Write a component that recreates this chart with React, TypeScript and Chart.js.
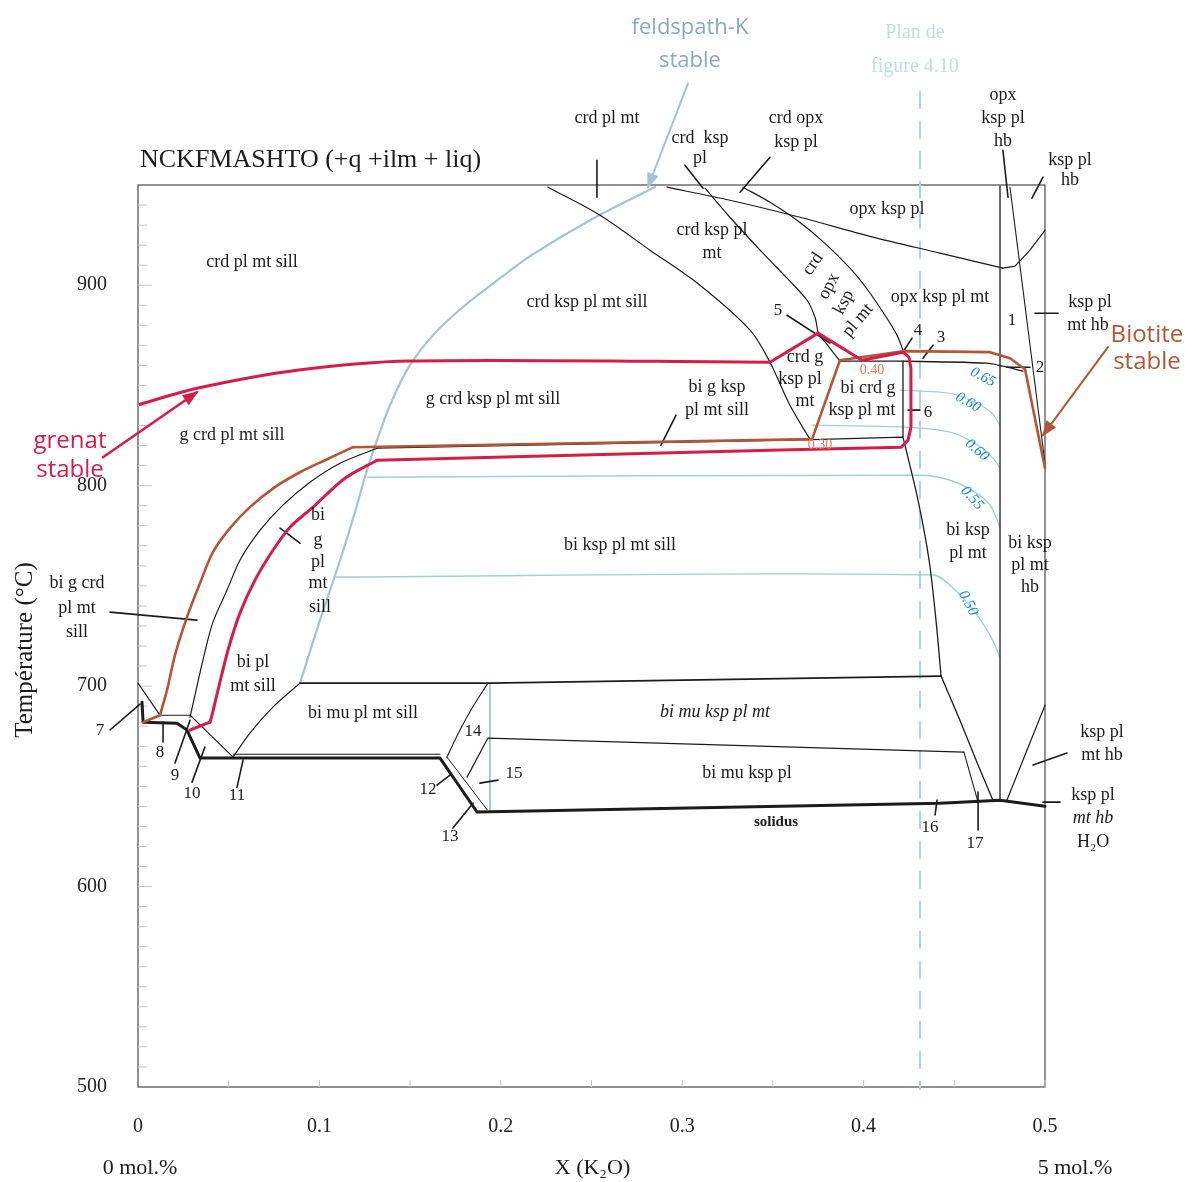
import React, { useEffect, useRef } from "react";
import { Chart, registerables } from "chart.js";
Chart.register(...registerables);

type P = [number, number];

// ---------- phase boundaries (x = X(K2O), y = T °C) ----------
const feldsparBoundary: P[] = [[0.0893,701.5],[0.1003,732.9],[0.1114,762.8],[0.1196,786.8],[0.1262,807.7],[0.1318,822.7],[0.1389,840.1],[0.1499,860.1],[0.1637,876.1],[0.1803,890.0],[0.1996,903.5],[0.2161,914.5],[0.2492,932.4],[0.2850,949.0]];
const garnetUpper: P[] = [[0.0011,840.6],[0.0325,848.6],[0.0877,857.6],[0.1499,862.2],[0.3484,861.6]];
const garnetMiddle: P[] = [[0.3484,861.6],[0.3749,876.1],[0.3991,862.6],[0.4217,866.6],[0.4250,864.1],[0.4261,858.6],[0.4261,829.2],[0.4245,822.7],[0.4207,819.2],[0.3484,817.7],[0.1318,812.7]];
const garnetLowerCurve: P[] = [[0.1318,812.7],[0.1141,803.7],[0.0965,789.3],[0.0838,779.3],[0.0744,767.8],[0.0645,752.9],[0.0562,736.4],[0.0496,717.9],[0.0441,698.0],[0.0408,685.5],[0.0397,682.0]];
const garnetFoot: P[] = [[0.0397,682.0],[0.0287,678.1]];
const biotiteCurve: P[] = [[0.0121,685.5],[0.0160,698.0],[0.0204,715.5],[0.0270,734.4],[0.0342,751.4],[0.0413,766.8],[0.0507,778.8],[0.0617,789.3],[0.0755,799.3],[0.0893,806.7],[0.1031,812.7],[0.1185,819.2]];
const biotiteUpper: P[] = [[0.0028,682.0],[0.0121,685.5]];
const biotiteRest: P[] = [[0.1185,819.2],[0.3716,823.2],[0.3870,862.6],[0.4217,867.1],[0.4697,866.6],[0.4807,863.6],[0.4890,858.1],[0.5000,808.7]];
const garnetInCurve: P[] = [[0.0287,684.5],[0.0314,695.5],[0.0358,713.0],[0.0413,731.9],[0.0491,747.9],[0.0562,762.8],[0.0673,777.8],[0.0799,790.3],[0.0948,801.7],[0.1114,811.2],[0.1318,818.7]];
const garnetInFlat: P[] = [[0.1318,818.7],[0.3716,823.0],[0.4217,824.2],[0.4228,820.2]];
const biOutLine: P[] = [[0.3870,862.1],[0.4217,862.1],[0.4680,861.1],[0.4768,859.6],[0.4879,857.1]];
const boxRight: P[] = [[0.4217,862.1],[0.4217,824.2]];
const point5Seg: P[] = [[0.3749,876.1],[0.3870,862.1]];
const crdKspCurve: P[] = [[0.2260,948.9],[0.2547,934.9],[0.2822,917.5],[0.3098,900.0],[0.3374,877.6],[0.3484,861.6],[0.3594,840.1],[0.3704,823.2]];
const opxLower: P[] = [[0.2916,948.9],[0.3263,942.4],[0.3649,933.9],[0.4035,924.4],[0.4421,916.0],[0.4768,908.5]];
const opxHbEdge: P[] = [[0.4768,908.5],[0.4835,909.5],[0.4917,917.5],[0.5000,927.4]];
const crdOpxLeft: P[] = [[0.3126,948.4],[0.3263,933.9],[0.3445,916.0],[0.3578,903.5],[0.3688,892.5],[0.3732,884.0],[0.3749,876.1]];
const crdOpxRight: P[] = [[0.3335,948.9],[0.3484,941.4],[0.3633,932.4],[0.3787,920.9],[0.3925,908.5],[0.4024,897.5],[0.4118,885.0],[0.4184,875.1],[0.4217,867.6]];
const hbVertical: P[] = [[0.4752,949.4],[0.4752,643.1]];
const hbSlant: P[] = [[0.4807,948.9],[0.5000,811.2]];
const hbLower: P[] = [[0.4790,643.1],[0.5000,690.5]];
const kspRightUpper: P[] = [[0.4228,820.2],[0.4300,792.8],[0.4361,762.8],[0.4399,732.9],[0.4427,705.0]];
const kspRightLower: P[] = [[0.4427,705.0],[0.4531,683.0],[0.4631,660.6],[0.4713,643.1]];
const lineB: P[] = [[0.4553,667.1],[0.4631,642.1]];
const muTop: P[] = [[0.0893,701.5],[0.1940,701.5],[0.4427,705.0]];
const muKspTop: P[] = [[0.1814,654.6],[0.1929,674.1],[0.4553,667.1]];
const line14: P[] = [[0.1703,664.6],[0.1775,678.1],[0.1841,689.0],[0.1929,701.5]];
const kspVertical: P[] = [[0.1940,701.5],[0.1940,637.2]];
const biPlLower: P[] = [[0.0524,664.6],[0.0617,676.6],[0.0744,689.5],[0.0893,701.5]];
const smallDiag: P[] = [[0.0287,685.5],[0.0524,664.6]];
const smallFlat: P[] = [[0.0121,685.5],[0.0287,685.5]];
const axisCorner: P[] = [[0.0000,701.5],[0.0121,685.5]];
const solidus: P[] = [[0.0022,692.0],[0.0028,682.0],[0.0215,681.5],[0.0270,678.1],[0.0342,664.1],[0.1665,664.1],[0.1869,637.2],[0.4421,641.6],[0.4752,643.1],[0.5000,640.1]];
const solidusThinA: P[] = [[0.0524,666.0],[0.1665,666.0]];
const solidusThinB: P[] = [[0.1703,664.6],[0.1924,638.4]];
// isopleths (teal)
const iso055: P[] = [[0.1268,804.2],[0.4311,805.2],[0.4476,802.7],[0.4614,796.8],[0.4697,790.3],[0.4752,779.3]];
const iso050: P[] = [[0.1086,754.4],[0.4383,755.4],[0.4504,747.9],[0.4614,736.9],[0.4697,725.4],[0.4752,714.5]];
const iso060a: P[] = [[0.4201,847.6],[0.4476,846.1],[0.4614,841.6],[0.4708,836.2],[0.4752,830.2]];
const iso060b: P[] = [[0.3715,830.2],[0.4228,829.2],[0.4476,826.7],[0.4631,820.2],[0.4713,813.7],[0.4752,808.7]];
const sectionLine: P[] = [[0.4311,997.0],[0.4311,498.5]];

const leaders: P[][] = [
  [[-0.0154,678.1],[0.0011,691.0]],[[0.0138,672.1],[0.0138,682.0]],[[0.0204,661.6],[0.0287,683.0]],
  [[0.0298,652.1],[0.0369,669.6]],[[0.0546,649.6],[0.0579,663.1]],[[0.1648,650.6],[0.1720,655.6]],
  [[0.1736,629.2],[0.1847,641.6]],[[0.1885,651.6],[0.1985,653.1]],[[0.4394,635.7],[0.4405,643.1]],
  [[0.4631,647.1],[0.4631,628.2]],[[0.4245,837.7],[0.4311,837.7]],[[0.4267,873.6],[0.4217,866.6]],
  [[0.4383,870.1],[0.4327,863.6]],[[0.3578,885.0],[0.3815,871.1]],[[0.4790,859.1],[0.4917,859.1]],
  [[0.4945,886.0],[0.5072,886.0]],[[0.2530,962.3],[0.2530,943.9]],[[0.3015,959.9],[0.3115,948.4]],
  [[0.3484,963.8],[0.3319,946.4]],[[0.4768,967.3],[0.4796,943.9]],[[0.4989,953.9],[0.4928,943.4]],
  [[0.2966,835.2],[0.2883,820.2]],[[0.0783,778.8],[0.0893,771.3]],[[-0.0154,736.9],[0.0325,732.9]],
  [[0.4934,660.6],[0.5121,666.6]],[[0.4989,642.1],[0.5083,642.1]],
];
const grenatArrow: P[] = [[-0.0193,814.2],[0.0325,846.6]];
const biotiteArrow: P[] = [[0.5347,869.1],[0.4989,825.2]];
const feldsparArrow: P[] = [[0.3032,1000.7],[0.2811,948.9]];

// ---------- labels ----------
type L = [string, number, number];
type LR = [string, number, number, number];
const phaseLabels: L[] = [
  ["crd pl mt sill",0.0628,911.5],["crd pl mt",0.2585,983.3],["crd  ksp",0.3098,973.3],["pl",0.3098,963.3],
  ["crd opx",0.3627,983.3],["ksp pl",0.3627,971.3],["opx",0.4768,994.8],["ksp pl",0.4768,983.3],["hb",0.4768,971.8],
  ["ksp pl",0.5138,962.3],["hb",0.5138,952.4],["opx ksp pl",0.4129,937.9],["crd ksp pl",0.3164,927.4],["mt",0.3164,916.0],
  ["crd ksp pl mt sill",0.2475,891.5],["opx ksp pl mt",0.4421,894.0],["ksp pl",0.5248,891.5],["mt hb",0.5237,880.0],
  ["crd g",0.3677,864.1],["ksp pl",0.3649,853.1],["mt",0.3677,842.1],["bi crd g",0.4024,848.6],["ksp pl mt",0.3991,837.7],
  ["g crd ksp pl mt sill",0.1957,843.1],["bi g ksp",0.3192,849.1],["pl mt sill",0.3192,837.7],["g crd pl mt sill",0.0518,825.2],
  ["bi",0.0992,785.3],["g",0.0992,772.8],["pl",0.0992,761.8],["mt",0.0992,751.4],["sill",0.1003,739.4],
  ["bi g crd",-0.0336,751.4],["pl mt",-0.0336,738.9],["sill",-0.0336,726.9],["bi ksp pl mt sill",0.2657,770.3],
  ["bi ksp",0.4576,777.8],["pl mt",0.4576,766.3],["bi ksp",0.4917,771.3],["pl mt",0.4917,760.3],["hb",0.4917,749.4],
  ["bi pl",0.0634,711.9],["mt sill",0.0634,700.0],["bi mu pl mt sill",0.1240,686.5],["bi mu ksp pl",0.3357,656.6],
  ["ksp pl",0.5314,677.1],["mt hb",0.5314,665.6],["ksp pl",0.5265,645.6],["H\u2082O",0.5265,622.2],
];
const italicLabels: L[] = [["bi mu ksp pl mt",0.3181,687.0],["mt hb",0.5265,634.2]];
const boldLabels: L[] = [["solidus",0.3517,632.2]];
const rotatedLabels: LR[] = [["crd",0.3721,910.5,-55],["opx",0.3809,899.5,-62],["ksp",0.3892,891.5,-62],["pl mt",0.3969,882.5,-50]];
const fieldNumbers: L[] = [
  ["1",0.4818,882.5],["2",0.4972,859.1],["3",0.4427,874.1],["4",0.4300,877.6],["5",0.3528,887.5],["6",0.4355,836.7],
  ["7",-0.0209,677.6],["8",0.0121,667.1],["9",0.0204,655.6],["10",0.0298,646.6],["11",0.0546,645.6],["12",0.1599,648.6],
  ["13",0.1720,625.2],["14",0.1847,677.1],["15",0.2073,656.6],["16",0.4366,629.2],["17",0.4614,621.7],
];
const isoplethLabels: LR[] = [["0.65",0.4658,854.1,28],["0.60",0.4576,841.6,30],["0.60",0.4625,817.7,40],["0.55",0.4598,793.8,48],["0.50",0.4576,741.4,62]];
const orangeLabels: L[] = [["0.40",0.4046,857.6],["0.30",0.3760,820.2]];
const grenatText: L[] = [["grenat",-0.0375,822.2],["stable",-0.0375,807.7]];
const biotiteText: L[] = [["Biotite",0.5562,875.1],["stable",0.5562,861.6]];
const feldsparText: L[] = [["feldspath-K",0.3043,1028.7],["stable",0.3043,1012.2]];
const planText: L[] = [["Plan de",0.4283,1026.2],["figure 4.10",0.4283,1009.2]];
const titleText = "NCKFMASHTO (+q +ilm + liq)";
const titlePos: P = [0.0011, 962.3];
const yTicks = [500, 600, 700, 800, 900];
const xTicks = [0, 0.1, 0.2, 0.3, 0.4, 0.5];

const SERIF = '"Liberation Serif", "Times New Roman", serif';
const SANS = '"Open Sans", Lato, sans-serif';
const BLACK = "#1c1c1c";
const RED = "rgb(214,28,72)";
const BROWN = "rgb(178,86,56)";
const KFS = "rgb(165,195,210)";
const TEAL = "rgb(160,208,208)";

function ds(data: P[], color: string, width: number, order: number, extra: any = {}) {
  return {
    data: data.map(([x, y]) => ({ x, y })),
    showLine: true, borderColor: color, backgroundColor: color, borderWidth: width,
    pointRadius: 0, pointHoverRadius: 0, tension: 0, clip: false, order,
    borderJoinStyle: "round", borderCapStyle: "round", ...extra,
  };
}
const smooth = { tension: 0.3 };

const textPlugin = {
  id: "phaseText",
  beforeDatasetsDraw(chart: any) {
    const { ctx, chartArea: a, scales } = chart;
    ctx.save();
    ctx.strokeStyle = "#4a4a4a";
    ctx.lineWidth = 1.2;
    ctx.strokeRect(a.left, a.top, a.right - a.left, a.bottom - a.top);
    ctx.strokeStyle = "#c4c4c4";
    ctx.lineWidth = 1;
    for (let t = 510; t < 950; t += 10) {
      const y = scales.y.getPixelForValue(t);
      ctx.beginPath(); ctx.moveTo(a.left, y); ctx.lineTo(a.left + (t % 100 === 0 ? 14 : 9), y); ctx.stroke();
    }
    for (let v = 0.05; v < 0.5; v += 0.05) {
      const x = scales.x.getPixelForValue(v);
      ctx.beginPath(); ctx.moveTo(x, a.bottom); ctx.lineTo(x, a.bottom - 7); ctx.stroke();
    }
    ctx.restore();
  },
  afterDatasetsDraw(chart: any) {
    const { ctx, scales } = chart;
    const X = (v: number) => scales.x.getPixelForValue(v);
    const Y = (v: number) => scales.y.getPixelForValue(v);
    const put = (t: string, x: number, y: number, font: string, color: string, rot = 0, align = "center") => {
      ctx.save();
      ctx.translate(x, y);
      if (rot) ctx.rotate((rot * Math.PI) / 180);
      ctx.font = font; ctx.fillStyle = color; ctx.textAlign = align; ctx.textBaseline = "middle";
      ctx.fillText(t, 0, 0);
      ctx.restore();
    };
    chart.data.datasets.forEach((d: any, i: number) => {
      if (!d.arrow) return;
      const pts = chart.getDatasetMeta(i).data;
      const p1 = pts[pts.length - 2], p2 = pts[pts.length - 1];
      const ang = Math.atan2(p2.y - p1.y, p2.x - p1.x);
      ctx.save();
      ctx.translate(p2.x, p2.y); ctx.rotate(ang);
      ctx.fillStyle = d.borderColor;
      ctx.beginPath(); ctx.moveTo(2, 0); ctx.lineTo(-14, -6); ctx.lineTo(-14, 6); ctx.closePath(); ctx.fill();
      ctx.restore();
    });
    phaseLabels.forEach(([t, x, y]) => put(t, X(x), Y(y), `18px ${SERIF}`, BLACK));
    italicLabels.forEach(([t, x, y]) => put(t, X(x), Y(y), `italic 18px ${SERIF}`, BLACK));
    boldLabels.forEach(([t, x, y]) => put(t, X(x), Y(y), `bold 15px ${SERIF}`, BLACK));
    rotatedLabels.forEach(([t, x, y, r]) => put(t, X(x), Y(y), `18px ${SERIF}`, BLACK, r));
    fieldNumbers.forEach(([t, x, y]) => put(t, X(x), Y(y), `17px ${SERIF}`, BLACK));
    isoplethLabels.forEach(([t, x, y, r]) => put(t, X(x), Y(y), `italic 15px ${SERIF}`, "rgb(25,140,205)", r));
    orangeLabels.forEach(([t, x, y]) => put(t, X(x), Y(y), `14px ${SERIF}`, "rgb(236,120,92)"));
    grenatText.forEach(([t, x, y]) => put(t, X(x), Y(y), `24px ${SANS}`, RED));
    biotiteText.forEach(([t, x, y]) => put(t, X(x), Y(y), `24px ${SANS}`, BROWN));
    feldsparText.forEach(([t, x, y]) => put(t, X(x), Y(y), `22px ${SANS}`, "rgb(135,172,192)"));
    planText.forEach(([t, x, y]) => put(t, X(x), Y(y), `20px ${SERIF}`, "rgb(196,222,222)"));
    put(titleText, X(titlePos[0]), Y(titlePos[1]), `26px ${SERIF}`, BLACK, 0, "left");
    put("Temp\u00e9rature (\u00b0C)", 25, 650, `25px ${SERIF}`, BLACK, -90);
    const by = 1168;
    put("0 mol.%", X(0) + 2, by, `22px ${SERIF}`, BLACK);
    put("X (K\u2082O)", X(0.25) + 1, by, `22px ${SERIF}`, BLACK);
    put("5 mol.%", X(0.5) + 30, by, `22px ${SERIF}`, BLACK);
  },
};

export default function App() {
  const ref = useRef<HTMLCanvasElement>(null);
  useEffect(() => {
    const datasets: any[] = [
      ds(sectionLine, "rgb(172,214,220)", 2, 90, { borderDash: [18, 12], borderCapStyle: "butt" }),
      ds(iso055, TEAL, 1.4, 80, smooth), ds(iso050, TEAL, 1.4, 80, smooth), ds(iso060a, TEAL, 1.2, 80, smooth), ds(iso060b, TEAL, 1.2, 80, smooth),
      ds(feldsparBoundary, KFS, 2.2, 60, smooth), ds(kspVertical, KFS, 1.8, 60),
      ds(garnetInCurve, BLACK, 1.2, 40, smooth), ds(garnetInFlat, BLACK, 1.2, 40),
      ds(biOutLine, BLACK, 1.3, 40, smooth), ds(boxRight, BLACK, 1.3, 40),
      ds(point5Seg, BLACK, 1.2, 40), ds(crdKspCurve, BLACK, 1.2, 40, smooth), ds(opxLower, BLACK, 1.2, 40, smooth),
      ds(opxHbEdge, BLACK, 1.2, 40),
      ds(crdOpxLeft, BLACK, 1.2, 40, smooth), ds(crdOpxRight, BLACK, 1.2, 40, smooth), ds(hbVertical, BLACK, 1.3, 40),
      ds(hbSlant, BLACK, 1.1, 40), ds(hbLower, BLACK, 1.2, 40),
      ds(kspRightUpper, BLACK, 1.3, 40, smooth), ds(kspRightLower, BLACK, 1.3, 40),
      ds(lineB, BLACK, 1.1, 40), ds(muTop, BLACK, 1.6, 40), ds(muKspTop, BLACK, 1.2, 40), ds(line14, BLACK, 1.1, 40, smooth),
      ds(biPlLower, BLACK, 1.2, 40, smooth), ds(smallDiag, BLACK, 1.2, 40), ds(smallFlat, BLACK, 1.1, 40), ds(axisCorner, BLACK, 1.1, 40),
      ds(solidusThinA, BLACK, 1, 40), ds(solidusThinB, BLACK, 1, 40),
      ds(solidus, BLACK, 3, 30),
      ...leaders.map((l) => ds(l, BLACK, 1.6, 35)),
      ds(biotiteUpper, BROWN, 2.6, 20), ds(biotiteCurve, BROWN, 2.6, 20, smooth), ds(biotiteRest, BROWN, 2.6, 20),
      ds(garnetUpper, RED, 3, 10, smooth), ds(garnetMiddle, RED, 3, 10), ds(garnetLowerCurve, RED, 3, 10, smooth), ds(garnetFoot, RED, 3, 10),
      ds(grenatArrow, RED, 2.6, 5, { arrow: true }),
      ds(biotiteArrow, BROWN, 2, 5, { arrow: true }),
      ds(feldsparArrow, KFS, 2, 5, { arrow: true }),
    ];
    const chart = new Chart(ref.current as HTMLCanvasElement, {
      type: "scatter",
      data: { datasets },
      options: {
        animation: false,
        responsive: false,
        devicePixelRatio: 1,
        events: [],
        layout: { padding: { left: 0, right: 144, top: 185, bottom: 0 } },
        plugins: { legend: { display: false }, tooltip: { enabled: false } },
        scales: {
          x: {
            type: "linear", min: 0, max: 0.5,
            afterBuildTicks: (s: any) => { s.ticks = xTicks.map((v) => ({ value: v })); },
            afterFit: (s: any) => { s.height = 95; },
            grid: { display: false, drawTicks: false }, border: { display: false },
            ticks: { padding: 28, color: "#222", font: { family: SERIF, size: 20 }, maxRotation: 0,
              callback: (v: any) => (Number(v) === 0 ? "0" : Number(v).toFixed(1)) },
          },
          y: {
            type: "linear", min: 500, max: 950,
            afterBuildTicks: (s: any) => { s.ticks = yTicks.map((v) => ({ value: v })); },
            afterFit: (s: any) => { s.width = 138; },
            grid: { display: false, drawTicks: false }, border: { display: false },
            ticks: { padding: 31, color: "#222", font: { family: SERIF, size: 20 } },
          },
        },
      } as any,
      plugins: [textPlugin],
    } as any);
    return () => chart.destroy();
  }, []);
  return (
    <div style={{ position: "absolute", left: 0, top: 0, width: 1189, height: 1182, background: "#fff" }}>
      <canvas ref={ref} width={1189} height={1182} style={{ width: 1189, height: 1182, display: "block" }} />
    </div>
  );
}
